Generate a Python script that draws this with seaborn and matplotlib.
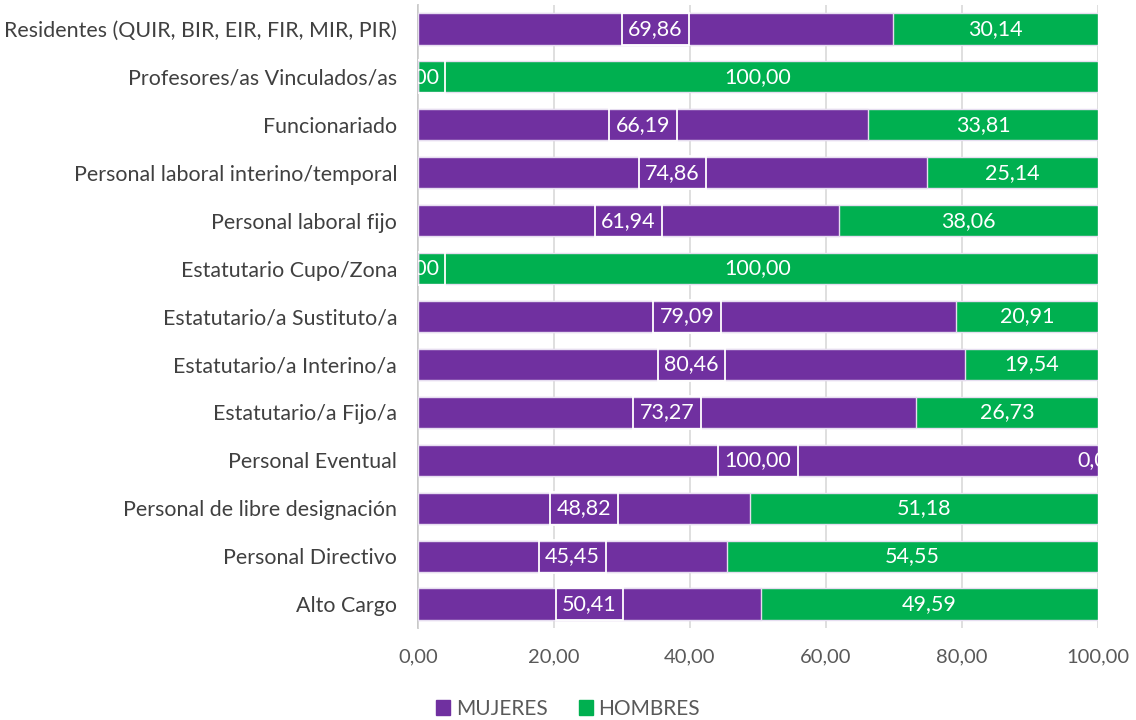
import numpy as np
import pandas as pd
import matplotlib
matplotlib.use("Agg")
import matplotlib.pyplot as plt
import seaborn as sns
from matplotlib.patches import Patch

# datos
categorias = [
    "Residentes (QUIR, BIR, EIR, FIR, MIR, PIR)",
    "Profesores/as Vinculados/as",
    "Funcionariado",
    "Personal laboral interino/temporal",
    "Personal laboral fijo",
    "Estatutario Cupo/Zona",
    "Estatutario/a Sustituto/a",
    "Estatutario/a Interino/a",
    "Estatutario/a Fijo/a",
    "Personal Eventual",
    "Personal de libre designación",
    "Personal Directivo",
    "Alto Cargo",
]
mujeres = [69.86, 0.00, 66.19, 74.86, 61.94, 0.00, 79.09, 80.46, 73.27, 100.00, 48.82, 45.45, 50.41]
hombres = [30.14, 100.00, 33.81, 25.14, 38.06, 100.00, 20.91, 19.54, 26.73, 0.00, 51.18, 54.55, 49.59]
xticks = [0, 20, 40, 60, 80, 100]

df = pd.DataFrame({"cat": categorias, "MUJERES": mujeres, "HOMBRES": hombres})
df["total"] = df["MUJERES"] + df["HOMBRES"]

morado = "#7030A0"
verde = "#00B050"

sns.set_style("white")
plt.rcParams["font.family"] = ["Lato", "DejaVu Sans"]

fig = plt.figure(figsize=(11.36, 7.2), dpi=100)
ax = fig.add_axes([418 / 1136, 1 - 628 / 720, 680 / 1136, 623 / 720])

sns.barplot(data=df, y="cat", x="total", color=verde, width=0.65, orient="h",
            edgecolor="#E6DDF0", linewidth=1, saturation=1, ax=ax)
sns.barplot(data=df, y="cat", x="MUJERES", color=morado, width=0.65, orient="h",
            edgecolor="#E6DDF0", linewidth=1, saturation=1, ax=ax)

def fmt(v):
    return f"{v:.2f}".replace(".", ",")

# etiquetas de datos
for i, (m, h) in enumerate(zip(mujeres, hombres)):
    ax.text(m / 2, i, fmt(m), ha="center", va="center", color="white",
            fontsize=15.5, clip_on=True, zorder=1,
            bbox=dict(boxstyle="square,pad=0.3", facecolor="none",
                      edgecolor="white", linewidth=1.3))
    ax.text(m + h / 2, i, fmt(h), ha="center", va="center", color="white",
            fontsize=15.5, clip_on=True)

ax.set_xlim(0, 100)
ax.set_ylim(12.5, -0.5)
ax.set_xticks(xticks)
ax.set_xticklabels([fmt(t) for t in xticks], fontsize=14.5, color="#595959")
ax.tick_params(axis="x", length=0, pad=15)
ax.tick_params(axis="y", length=0, pad=15, labelsize=15.4, labelcolor="#404040")
ax.set_xlabel("")
ax.set_ylabel("")
ax.grid(axis="x", color="#D9D9D9", linewidth=1.2, zorder=2)
ax.set_axisbelow(False)
for s in ["top", "right", "bottom"]:
    ax.spines[s].set_visible(False)
ax.spines["left"].set_color("#BFBFBF")
ax.spines["left"].set_linewidth(1.2)
for b in ax.patches:
    b.set_zorder(3)
for t in ax.texts:
    t.set_zorder(4)

handles = [Patch(color=morado, label="MUJERES"), Patch(color=verde, label="HOMBRES")]
fig.legend(handles=handles, loc="lower center", bbox_to_anchor=(0.5, -0.024), ncol=2,
           frameon=False, fontsize=15, handlelength=0.7, handleheight=0.7,
           handletextpad=0.25, columnspacing=1.5, labelcolor="#595959")

fig.savefig("out.png", dpi=100)
